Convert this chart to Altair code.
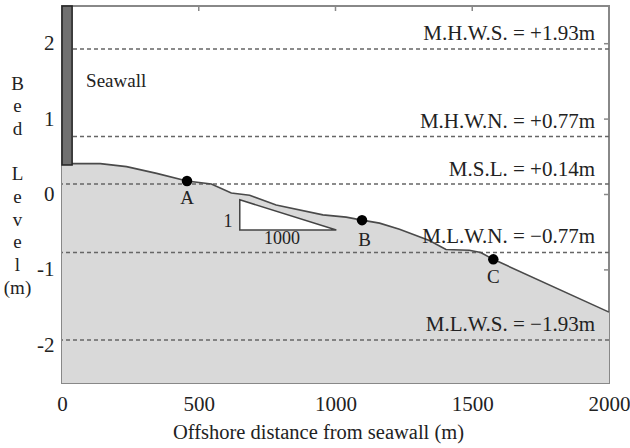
import altair as alt
import pandas as pd

# Bed profile (offshore distance m, bed level m)
prof_x = [0, 140, 236, 346, 457, 546, 619, 686, 783, 954, 1039, 1097, 1161, 1234, 1343, 1404, 1489, 1531, 1577, 2000]
prof_y = [0.41, 0.41, 0.37, 0.28, 0.18, 0.14, 0.02, -0.01, -0.14, -0.27, -0.30, -0.34, -0.38, -0.46, -0.61, -0.73, -0.74, -0.77, -0.86, -1.56]

# Tide levels
level_vals = [1.93, 0.77, 0.14, -0.77, -1.93]
level_text = ["M.H.W.S. = +1.93m", "M.H.W.N. = +0.77m", "M.S.L. = +0.14m",
              "M.L.W.N. = \u22120.77m", "M.L.W.S. = \u22121.93m"]
level_label_y = [2.13, 0.96, 0.32, -0.56, -1.73]
level_label_x = [1949, 1949, 1949, 1949, 1949]

# Survey points
pt_names = ["A", "B", "C"]
pt_x = [457, 1097, 1577]
pt_y = [0.18, -0.34, -0.86]
pt_label_x = [457, 1106, 1577]
pt_label_y = [-0.04, -0.60, -1.09]

# Seawall
wall_x = [0]
wall_x2 = [37]
wall_y = [0.39]
wall_y2 = [2.5]

# Slope triangle 1:1000
tri_x = [650, 1003]
tri_top = [-0.07, -0.47]
tri_bot = [-0.47, -0.47]
tri_lab = ["1", "1000"]
tri_lab_x = [607, 804]
tri_lab_y = [-0.36, -0.59]

x_ticks = [0, 500, 1000, 1500, 2000]
y_ticks = [-2, -1, 0, 1, 2]
y_title_lines = ["B", "e", "d", "\u2800", "L", "e", "v", "e", "l", "(m)"]

FONT = "Liberation Serif"
xs = alt.Scale(domain=[0, 2000], nice=False)
ys = alt.Scale(domain=[-2.5, 2.5], nice=False)

prof = pd.DataFrame({"x": prof_x, "y": prof_y})
levels = pd.DataFrame({"v": level_vals, "t": level_text, "lx": level_label_x, "ly": level_label_y})
pts = pd.DataFrame({"n": pt_names, "x": pt_x, "y": pt_y, "lx": pt_label_x, "ly": pt_label_y})
wall = pd.DataFrame({"x": wall_x, "x2": wall_x2, "y": wall_y, "y2": wall_y2})
tri = pd.DataFrame({"x": tri_x, "top": tri_top, "bot": tri_bot})
tri_l = pd.DataFrame({"t": tri_lab, "x": tri_lab_x, "y": tri_lab_y})
topt = pd.DataFrame({"x": x_ticks[1:-1]})
rightt = pd.DataFrame({"y": y_ticks})
wall_l = pd.DataFrame({"t": ["Seawall"], "x": [88], "y": [1.51]})

xaxis = alt.Axis(values=x_ticks, grid=False, domain=False, ticks=False, labelFont=FONT,
                 format="d", labelFontSize=21, labelColor="#222", labelPadding=10,
                 labelFlush=False, labelOverlap=False,
                 title="Offshore distance  from seawall (m)", titleFont=FONT, titleFontSize=20.5,
                 titleFontWeight="normal", titleColor="#222", titleX=256, titleY=49,
                 titleBaseline="middle", titleAlign="center")
yaxis = alt.Axis(values=y_ticks, grid=False, domain=False, ticks=False, labelFont=FONT,
                 labelFontSize=21, labelColor="#222", labelPadding=8,
                 labelFlush=False, labelOverlap=False,
                 labelExpr="toString(datum.value)",
                 title=y_title_lines, titleFont=FONT,
                 titleFontSize=19, titleFontWeight="normal", titleColor="#222", titleAngle=0,
                 titleLineHeight=22.7, titleX=-45, titleY=77, titleAlign="center",
                 titleBaseline="middle")


def X(f):
    return alt.X(f, scale=xs, axis=xaxis)


def Y(f):
    return alt.Y(f, scale=ys, axis=yaxis)


top_ticks = alt.Chart(topt).mark_rule(color="#888", strokeWidth=1.5).encode(
    x=X("x:Q"), y=alt.value(0), y2=alt.value(5))
right_ticks = alt.Chart(rightt).mark_rule(color="#888", strokeWidth=1.5).encode(
    y=Y("y:Q"), x=alt.value(542), x2=alt.value(547))

area = alt.Chart(prof).mark_area(color="#d9d9d9").encode(
    x=X("x:Q"), y=Y("y:Q"), y2=alt.datum(-2.5))

dashes = alt.Chart(levels).mark_rule(color="#666", strokeWidth=1.5, strokeDash=[4, 3]).encode(
    y=Y("v:Q"))

line = alt.Chart(prof).mark_line(color="#4a4a4a", strokeWidth=1.6).encode(
    x=X("x:Q"), y=Y("y:Q"))

tri_area = alt.Chart(tri).mark_area(color="white", stroke="#444", strokeWidth=1.5).encode(
    x=X("x:Q"), y=Y("top:Q"), y2="bot:Q")

tri_text = alt.Chart(tri_l).mark_text(font=FONT, fontSize=18, color="#222", baseline="middle").encode(
    x=X("x:Q"), y=Y("y:Q"), text="t:N")

wall_rect = alt.Chart(wall).mark_rect(color="#707070", stroke="#222", strokeWidth=1.5).encode(
    x=X("x:Q"), x2="x2:Q", y=Y("y:Q"), y2="y2:Q")

wall_text = alt.Chart(wall_l).mark_text(
    font=FONT, fontSize=19, color="#222", align="left", baseline="middle").encode(
    x=X("x:Q"), y=Y("y:Q"), text="t:N")

points = alt.Chart(pts).mark_circle(color="black", opacity=1, size=110).encode(
    x=X("x:Q"), y=Y("y:Q"))

pt_text = alt.Chart(pts).mark_text(font=FONT, fontSize=19, color="#222", baseline="middle").encode(
    x=X("lx:Q"), y=Y("ly:Q"), text="n:N")

lvl_text = alt.Chart(levels).mark_text(font=FONT, fontSize=21, color="#222", align="right",
                                       baseline="middle").encode(
    x=X("lx:Q"), y=Y("ly:Q"), text="t:N")

chart = alt.layer(top_ticks, right_ticks, area, dashes, line, tri_area, tri_text, wall_rect,
                  wall_text, points, pt_text, lvl_text).properties(
    width=547, height=377, autosize="none",
    padding={"left": 62, "top": 6, "right": 21, "bottom": 65},
    background="white",
).configure_view(stroke="#888", strokeWidth=2).configure_axis(
    labelFont=FONT, titleFont=FONT)

chart.save("out.html", embed_options={"renderer": "svg", "actions": False})
